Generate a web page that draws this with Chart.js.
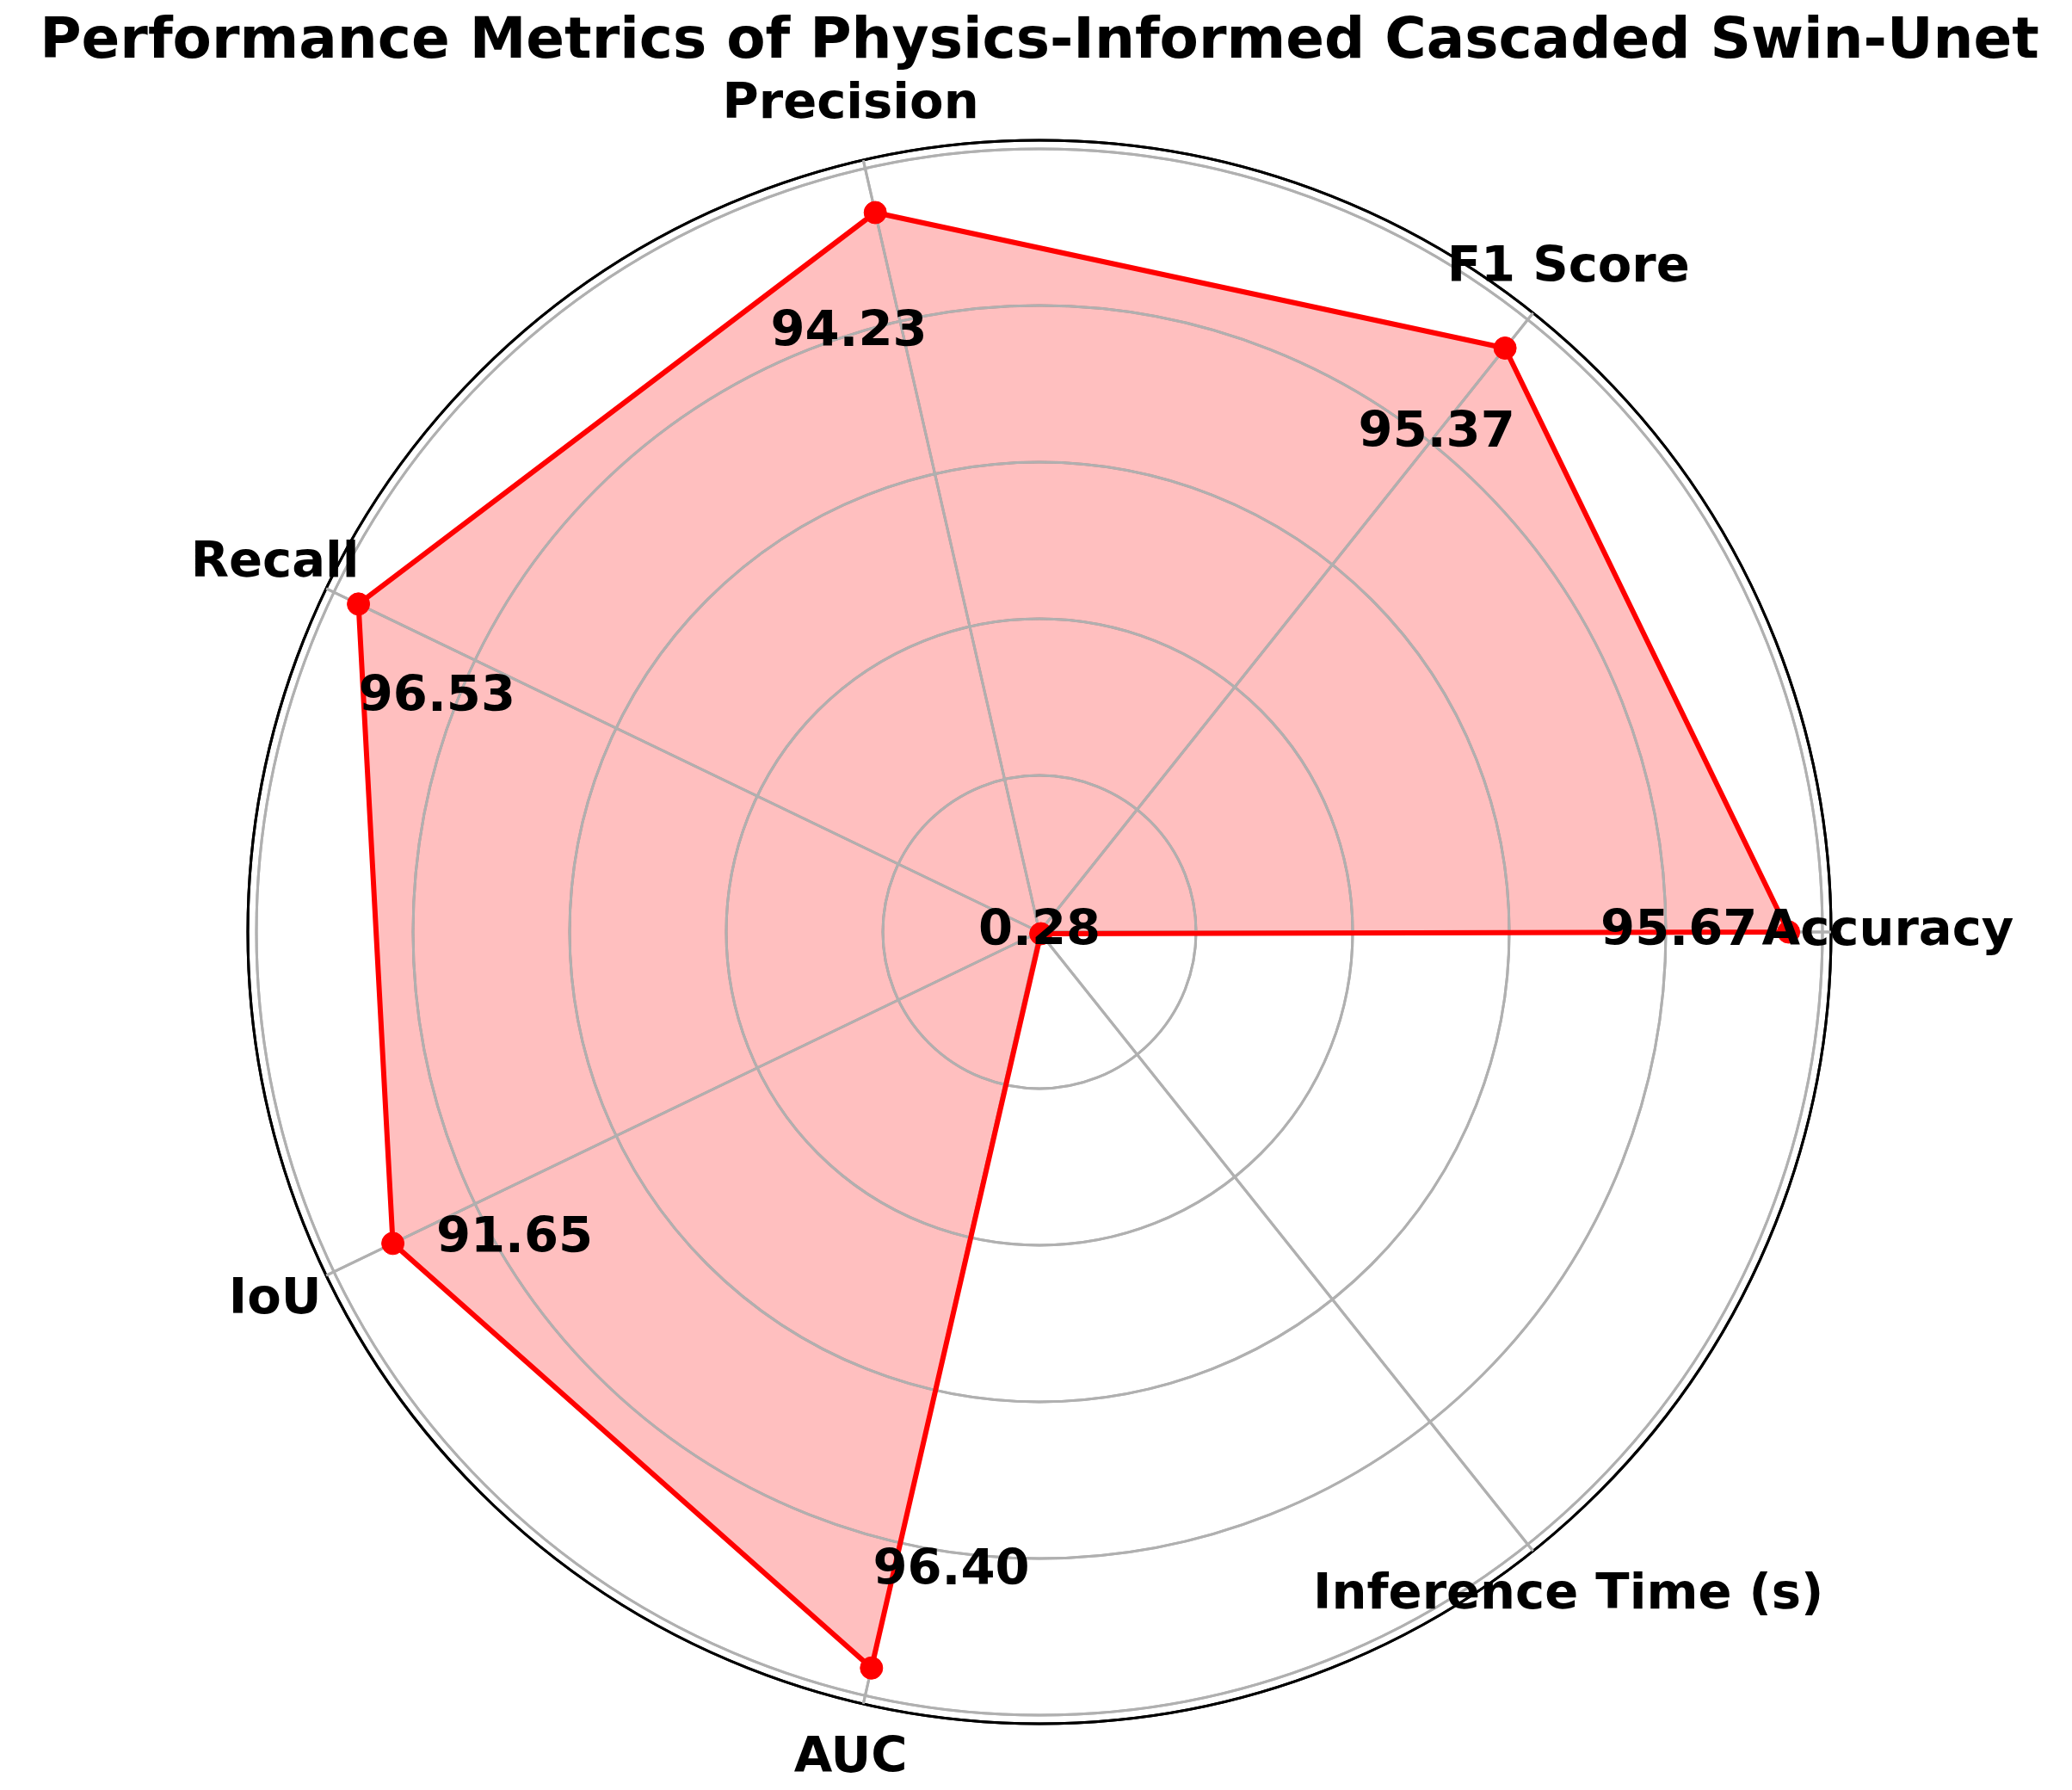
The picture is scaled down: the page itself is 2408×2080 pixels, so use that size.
<!DOCTYPE html>
<html>
<head>
<meta charset="utf-8">
<title>Performance Metrics radar</title>
<script src="https://cdn.jsdelivr.net/npm/chart.js@4.4.1/dist/chart.umd.min.js"></script>
<style>
  html, body { margin: 0; padding: 0; background: #ffffff; }
  canvas { display: block; }
</style>
</head>
<body>
<canvas id="radar-chart" width="2408" height="2080"></canvas>
<script>
              ///// Data /////
// metrics listed counter-clockwise starting at the right, like the original polar plot
const metrics = ['Accuracy', 'F1 Score', 'Precision', 'Recall', 'IoU', 'AUC', 'Inference Time (s)'];
const scores = [95.67, 95.37, 94.23, 96.53, 91.65, 96.40, 0.28];
const ringTicks = [0, 20, 40, 60, 80, 100];
const radialMax = 101.1;

// chart.js walks clockwise, so keep Accuracy first and reverse the rest
const drawOrder = [0, 6, 5, 4, 3, 2, 1];
const labels = drawOrder.map(i => metrics[i]);
const values = drawOrder.map(i => scores[i]);

const labelFont = 'bold 57.6px "DejaVu Sans"';

// matplotlib draws the grid above the translucent fill
const gridOverFill = {
  id: 'gridOverFill',
  afterDatasetDraw(chart, args) {
    if (args.index === 0) chart.scales.r.drawGrid();
  }
};

// category names centred outside the rim + value text inside each spoke
const radarText = {
  id: 'radarText',
  afterDraw(chart, args, opts) {
    const scale = chart.scales.r;
    const ctx = chart.ctx;
    ctx.save();
    ctx.font = labelFont;
    ctx.fillStyle = '#000000';
    ctx.textAlign = 'center';
    ctx.textBaseline = 'middle';
    metrics.forEach((name, i) => {
      const j = drawOrder.indexOf(i);
      const pl = scale.getPointPosition(j, scale.drawingArea + opts.labelGap);
      ctx.fillText(name, pl.x, pl.y);

      const d = scale.getDistanceFromCenterForValue(Math.max(scores[i] - opts.valueInset, 0));
      const a = scale.getIndexAngle(j) - Math.PI / 2 - opts.nudgeDeg[i] * Math.PI / 180;
      ctx.fillText(scores[i].toFixed(2), scale.xCenter + Math.cos(a) * d, scale.yCenter + Math.sin(a) * d);
    });
    ctx.restore();
  }
};

const data = {
  labels: labels,
  datasets: [{
    // fill only
    data: values,
    fill: true,
    backgroundColor: 'rgba(255, 0, 0, 0.25)',
    borderWidth: 0,
    pointRadius: 0,
    order: 2
  }, {
    data: values,
    fill: false,
    borderColor: '#ff0000',
    borderWidth: 6,
    borderJoinStyle: 'round',
    pointRadius: 13,
    pointBorderWidth: 1,
    pointBackgroundColor: '#ff0000',
    pointBorderColor: '#ff0000',
    order: 1
  }]
};

const config = {
  type: 'radar',
  data,
  options: {
    responsive: false,
    devicePixelRatio: 1,
    animation: false,
    events: [],
    // wide box so the title is not squeezed; the radial area stays 1840 tall
    layout: { padding: { left: 8, right: 0, top: 0, bottom: 77 } },
    elements: { line: { tension: 0 } },
    scales: {
      r: {
        min: 0,
        max: radialMax,
        startAngle: 90,
        afterBuildTicks: (scale) => {
          scale.ticks = ringTicks.concat([radialMax]).map(v => ({ value: v }));
        },
        ticks: { display: false },
        grid: {
          circular: true,
          color: (c) => (c.tick && c.tick.value >= radialMax) ? '#000000' : '#b0b0b0',
          lineWidth: 3
        },
        angleLines: { color: '#b0b0b0', lineWidth: 3 },
        pointLabels: { display: false }
      }
    },
    plugins: {
      legend: { display: false },
      tooltip: { enabled: false },
      title: {
        display: true,
        text: 'Performance Metrics of Physics-Informed Cascaded Swin-Unet',
        color: '#000000',
        font: { family: 'DejaVu Sans', size: 66, weight: 'bold', lineHeight: 1.2 },
        padding: { top: 10, bottom: 73.8 }
      },
      radarText: {
        labelGap: 66,
        valueInset: 14,
        nudgeDeg: [0, 0, 4.8, 4.5, 4.6, 5.0, 0]
      }
    }
  },
  plugins: [gridOverFill, radarText]
};

let radarChart = new Chart(
  document.getElementById('radar-chart'),
  config
);
</script>
</body>
</html>
